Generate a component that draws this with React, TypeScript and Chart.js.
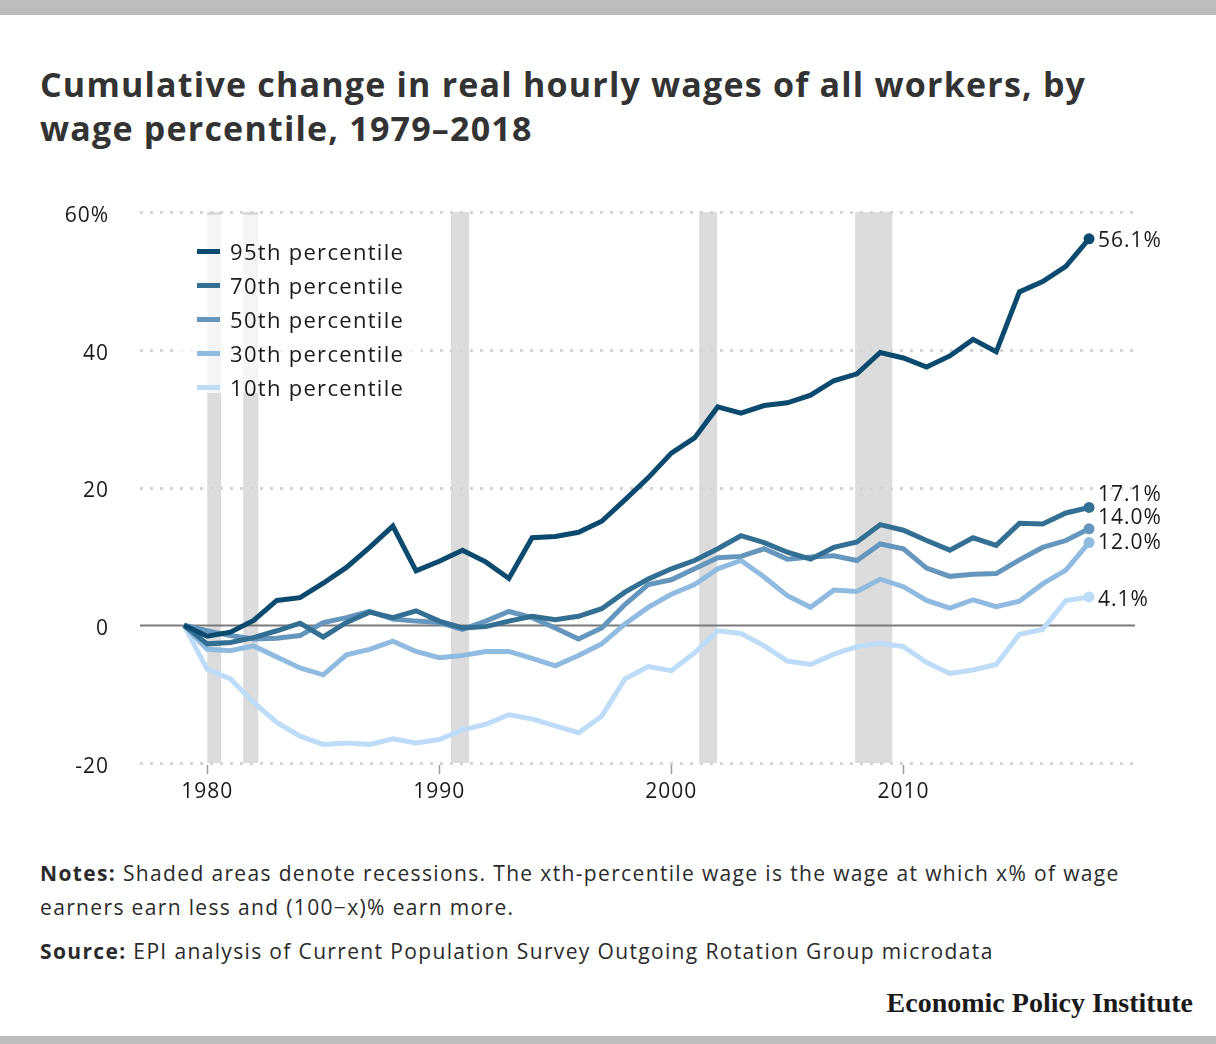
import React, { useEffect, useRef } from "react";
import { Chart, registerables } from "chart.js";

Chart.register(...registerables);

// ---------- DATA ----------
const years = [
  1979, 1980, 1981, 1982, 1983, 1984, 1985, 1986, 1987, 1988,
  1989, 1990, 1991, 1992, 1993, 1994, 1995, 1996, 1997, 1998,
  1999, 2000, 2001, 2002, 2003, 2004, 2005, 2006, 2007, 2008,
  2009, 2010, 2011, 2012, 2013, 2014, 2015, 2016, 2017, 2018,
];

const p95 = [
  0, -1.6, -1.0, 0.7, 3.6, 4.0, 6.1, 8.4, 11.3, 14.4,
  7.9, 9.3, 10.9, 9.2, 6.8, 12.7, 12.9, 13.5, 15.1, 18.2,
  21.4, 25.0, 27.2, 31.7, 30.8, 31.9, 32.3, 33.4, 35.5, 36.5,
  39.6, 38.8, 37.5, 39.1, 41.5, 39.7, 48.4, 49.9, 52.1, 56.1,
];

const p70 = [
  0, -2.7, -2.5, -1.8, -0.8, 0.3, -1.7, 0.4, 1.9, 1.1,
  2.1, 0.6, -0.4, -0.2, 0.6, 1.3, 0.8, 1.3, 2.4, 4.8,
  6.7, 8.2, 9.4, 11.1, 13.0, 12.0, 10.6, 9.6, 11.3, 12.1,
  14.6, 13.8, 12.3, 10.9, 12.7, 11.6, 14.8, 14.7, 16.3, 17.1,
];

const p50 = [
  0, -0.8, -1.5, -2.0, -1.9, -1.5, 0.4, 1.1, 2.0, 0.9,
  0.6, 0.4, -0.6, 0.6, 2.0, 1.1, -0.4, -2.0, -0.4, 3.0,
  5.9, 6.6, 8.2, 9.8, 10.0, 11.1, 9.6, 9.9, 10.1, 9.4,
  11.8, 11.1, 8.3, 7.1, 7.4, 7.5, 9.5, 11.3, 12.3, 14.0,
];

const p30 = [
  0, -3.5, -3.7, -3.0, -4.6, -6.2, -7.2, -4.3, -3.5, -2.3,
  -3.8, -4.7, -4.4, -3.8, -3.8, -4.8, -5.9, -4.4, -2.7, 0.2,
  2.6, 4.5, 5.9, 8.2, 9.4, 7.0, 4.3, 2.6, 5.1, 4.9,
  6.7, 5.6, 3.6, 2.5, 3.7, 2.7, 3.5, 6.0, 8.0, 12.0,
];

const p10 = [
  0, -6.4, -7.8, -11.2, -14.1, -16.1, -17.3, -17.1, -17.3, -16.5,
  -17.1, -16.6, -15.2, -14.4, -13.0, -13.6, -14.6, -15.6, -13.2, -7.8,
  -6.0, -6.6, -4.0, -0.8, -1.2, -3.0, -5.2, -5.7, -4.2, -3.1,
  -2.6, -3.1, -5.4, -7.0, -6.5, -5.7, -1.3, -0.6, 3.6, 4.1,
];

const seriesNames = [
  "95th percentile",
  "70th percentile",
  "50th percentile",
  "30th percentile",
  "10th percentile",
];
const seriesValues = [p95, p70, p50, p30, p10];
const seriesColors = ["#0a4a6e", "#336e93", "#6596bd", "#8fbbe0", "#bddcf8"];
const endLabels = ["56.1%", "17.1%", "14.0%", "12.0%", "4.1%"];
const endLabelShift = [2, -12, -11, 0, 3];

const yTicks = [-20, 0, 20, 40, 60];
const xTicks = [1980, 1990, 2000, 2010];
const recessions: [number, number][] = [
  [1980.0, 1980.6],
  [1981.55, 1982.2],
  [1990.5, 1991.28],
  [2001.2, 2001.97],
  [2007.92, 2009.52],
];

const FONT = "'Open Sans', Lato, sans-serif";
const W = 1216;
const CH = 830;

const decorPlugin = {
  id: "decor",
  beforeDraw(chart: any) {
    const { ctx, chartArea, scales } = chart;
    const xs = scales.x;
    const ys = scales.y;
    ctx.save();
    ctx.fillStyle = "#dcdcdc";
    for (const [a, b] of recessions) {
      const x1 = xs.getPixelForValue(a);
      const x2 = xs.getPixelForValue(b);
      ctx.fillRect(x1, chartArea.top, x2 - x1, chartArea.bottom - chartArea.top);
    }
    for (const t of yTicks) {
      const y = Math.round(ys.getPixelForValue(t)) + 0.5;
      ctx.beginPath();
      if (t === 0) {
        ctx.setLineDash([]);
        ctx.strokeStyle = "#7a7a7a";
        ctx.lineWidth = 2;
      } else {
        ctx.setLineDash([3, 7]);
        ctx.strokeStyle = "#d4d4d4";
        ctx.lineWidth = 3;
      }
      ctx.moveTo(chartArea.left, y);
      ctx.lineTo(chartArea.right, y);
      ctx.stroke();
    }
    ctx.setLineDash([]);
    ctx.strokeStyle = "#999";
    ctx.lineWidth = 1.5;
    for (const t of xTicks) {
      const x = Math.round(xs.getPixelForValue(t)) + 0.5;
      ctx.beginPath();
      ctx.moveTo(x, chartArea.bottom + 2);
      ctx.lineTo(x, chartArea.bottom + 11);
      ctx.stroke();
    }
    ctx.restore();
    try {
      ctx.letterSpacing = "1px";
    } catch (e) {}
  },
  afterDatasetsDraw(chart: any) {
    const { ctx } = chart;
    ctx.save();
    try {
      ctx.letterSpacing = "1px";
    } catch (e) {}
    ctx.font = `21px ${FONT}`;
    ctx.fillStyle = "#1a1a1a";
    ctx.textAlign = "left";
    ctx.textBaseline = "middle";
    chart.data.datasets.forEach((ds: any, i: number) => {
      const meta = chart.getDatasetMeta(i);
      const pt = meta.data[meta.data.length - 1];
      ctx.fillText(endLabels[i], pt.x + 9, pt.y + endLabelShift[i]);
    });
    ctx.restore();
  },
};

function ChartCanvas() {
  const ref = useRef<HTMLCanvasElement | null>(null);
  useEffect(() => {
    if (!ref.current) return;
    const n = years.length;
    const chart = new Chart(ref.current, {
      type: "line",
      data: {
        datasets: seriesValues.map((vals, i) => ({
          label: seriesNames[i],
          data: years.map((yr, k) => ({ x: yr, y: vals[k] })),
          borderColor: seriesColors[i],
          backgroundColor: seriesColors[i],
          borderWidth: 5,
          tension: 0,
          fill: false,
          borderJoinStyle: "miter" as const,
          pointRadius: years.map((_, k) => (k === n - 1 ? 5.5 : 0)),
          pointHoverRadius: 0,
          pointBackgroundColor: seriesColors[i],
          pointBorderWidth: 0,
        })),
      },
      options: {
        responsive: false,
        animation: false,
        devicePixelRatio: 1,
        layout: { padding: { top: 212, right: W - 1135, bottom: 0, left: 0 } },
        plugins: {
          legend: { display: false },
          tooltip: { enabled: false },
          title: { display: false },
        },
        scales: {
          x: {
            type: "linear",
            min: 1977.104,
            max: 2019.98,
            grid: { display: false },
            border: { display: false },
            afterBuildTicks: (s: any) => {
              s.ticks = xTicks.map((v) => ({ value: v }));
            },
            afterFit: (s: any) => {
              s.height = CH - 763;
            },
            ticks: {
              autoSkip: false,
              maxRotation: 0,
              padding: 8,
              color: "#1a1a1a",
              font: { family: FONT, size: 21 },
              callback: (v: any) => String(v),
            },
          },
          y: {
            type: "linear",
            min: -20,
            max: 60,
            grid: { display: false, drawTicks: false },
            border: { display: false },
            afterBuildTicks: (s: any) => {
              s.ticks = yTicks.map((v) => ({ value: v }));
            },
            afterFit: (s: any) => {
              s.width = 140;
            },
            ticks: {
              padding: 31,
              labelOffset: 4,
              color: "#1a1a1a",
              font: { family: FONT, size: 21 },
              callback: (v: any) => (v === 60 ? "60%" : String(v)),
            },
          },
        },
      },
      plugins: [decorPlugin],
    } as any);
    return () => chart.destroy();
  }, []);
  return (
    <canvas
      ref={ref}
      width={W}
      height={CH}
      style={{ position: "absolute", left: 0, top: 0, width: W, height: CH }}
    />
  );
}

export default function App() {
  const legendTop = 251;
  return (
    <div
      style={{
        position: "absolute",
        left: 0,
        top: 0,
        width: W,
        height: 1044,
        background: "#fff",
        overflow: "hidden",
        fontFamily: FONT,
        color: "#1a1a1a",
      }}
    >
      <div style={{ position: "absolute", left: 0, top: 0, width: W, height: 15, background: "#bdbdbd" }} />
      <div style={{ position: "absolute", left: 0, top: 1036, width: W, height: 8, background: "#bdbdbd" }} />
      <div
        style={{
          position: "absolute",
          left: 40,
          top: 62,
          width: 1150,
          fontSize: 34,
          letterSpacing: 1.2,
          lineHeight: "44px",
          fontWeight: 700,
          color: "#333",
          whiteSpace: "nowrap",
        }}
      >
        Cumulative change in real hourly wages of all workers, by
        <br />
        wage percentile, 1979–2018
      </div>
      <ChartCanvas />
      <div
        style={{
          position: "absolute",
          left: 176,
          top: 215,
          width: 245,
          height: 178,
          background: "rgba(255,255,255,0.72)",
        }}
      />
      {seriesNames.map((name, i) => (
        <React.Fragment key={name}>
          <div
            style={{
              position: "absolute",
              left: 197,
              top: legendTop + i * 34 - 2.5,
              width: 23,
              height: 5,
              background: seriesColors[i],
            }}
          />
          <div
            style={{
              position: "absolute",
              left: 230,
              top: legendTop + i * 34 - 15,
              height: 30,
              lineHeight: "30px",
              fontSize: 22,
              letterSpacing: 1.3,
              whiteSpace: "nowrap",
            }}
          >
            {name}
          </div>
        </React.Fragment>
      ))}
      <div
        style={{
          position: "absolute",
          left: 40,
          top: 856,
          width: 1150,
          fontSize: 21,
          letterSpacing: 1.35,
          lineHeight: "34px",
          color: "#2a2a2a",
          whiteSpace: "nowrap",
        }}
      >
        <b>Notes:</b> Shaded areas denote recessions. The xth-percentile wage is the wage at which x% of wage
        <br />
        earners earn less and (100−x)% earn more.
      </div>
      <div
        style={{
          position: "absolute",
          left: 40,
          top: 934,
          width: 1150,
          fontSize: 21,
          letterSpacing: 1.35,
          lineHeight: "34px",
          color: "#2a2a2a",
          whiteSpace: "nowrap",
        }}
      >
        <b>Source:</b> EPI analysis of Current Population Survey Outgoing Rotation Group microdata
      </div>
      <div
        style={{
          position: "absolute",
          right: W - 1193,
          top: 986,
          fontFamily: "'Liberation Serif', 'DejaVu Serif', serif",
          fontWeight: 700,
          fontSize: 28,
          lineHeight: "34px",
          color: "#1a1a1a",
          whiteSpace: "nowrap",
        }}
      >
        Economic Policy Institute
      </div>
    </div>
  );
}
